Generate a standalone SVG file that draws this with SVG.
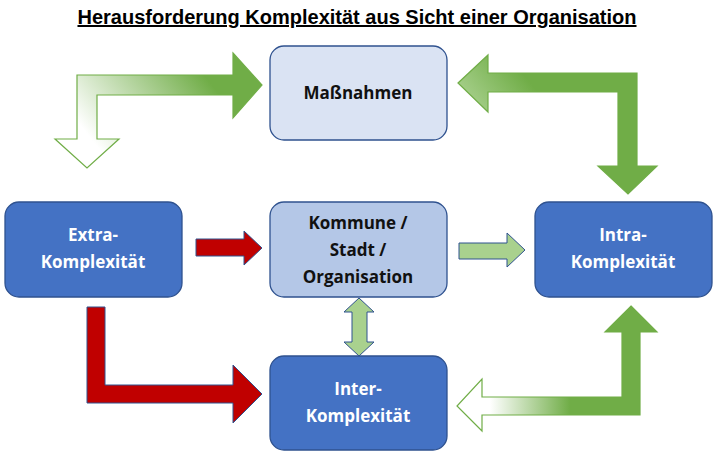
<svg xmlns="http://www.w3.org/2000/svg" width="720" height="453" viewBox="0 0 720 453">
<style>
.box{stroke:#2f528f;stroke-width:1.3}
.t{font-family:"Open Sans",sans-serif;font-weight:bold;font-size:17px;text-anchor:middle}
.w{fill:#fff}.k{fill:#111}
.g{stroke:#70ad47;stroke-width:1.2}
.r{fill:#c00000;stroke:#2f528f;stroke-width:1}
.lg{fill:#a9d18e;stroke:#2f528f;stroke-width:1}
</style>
<defs>
<linearGradient id="gTL" gradientUnits="userSpaceOnUse" x1="100" y1="150" x2="200" y2="70">
<stop offset="0" stop-color="#fff"/><stop offset="1" stop-color="#70ad47"/></linearGradient>
<linearGradient id="gBR" gradientUnits="userSpaceOnUse" x1="490" y1="406" x2="570" y2="406">
<stop offset="0" stop-color="#fff"/><stop offset="1" stop-color="#70ad47"/></linearGradient>
<linearGradient id="gTR" gradientUnits="userSpaceOnUse" x1="470" y1="110" x2="520" y2="70">
<stop offset="0" stop-color="#a9d18e"/><stop offset="1" stop-color="#70ad47"/></linearGradient>
</defs>
<text x="357" y="24" font-family="Liberation Sans,Arial,sans-serif" font-weight="bold" font-size="20" text-anchor="middle" text-decoration="underline">Herausforderung Komplexität aus Sicht einer Organisation</text>
<g id="connectors">
<path class="g" fill="url(#gTL)" d="M233,53 L262,85 L233,118 L233,95 L97,95 L97,139 L119,139 L87,168 L55,139 L77,139 L77,75 L233,75 Z"/>
<path class="g" fill="url(#gTR)" d="M458,83 L488,55 L488,73 L637,73 L637,166 L657,166 L628,194 L598,166 L618,166 L618,92 L488,92 L488,112 Z"/>
<path class="g" fill="url(#gBR)" d="M631,306 L657,332 L640,332 L640,415 L482,415 L482,431 L457,406 L482,379 L482,397 L622,397 L622,332 L605,332 Z"/>
<path class="r" d="M196,239 L244,239 L244,231 L262,248 L244,265 L244,256 L196,256 Z"/>
<path class="r" d="M87,307 L105,307 L105,385 L233,385 L233,365 L262,394 L233,423 L233,403 L87,403 Z"/>
<path class="lg" d="M459,243 L507,243 L507,233 L525,250 L507,267 L507,259 L459,259 Z"/>
<path class="lg" d="M359,298 L374,312 L367,312 L367,342 L374,342 L359,356 L344,342 L352,342 L352,312 L344,312 Z"/>
</g>
<g id="massnahmen"><rect class="box" x="270" y="46" width="177" height="94" rx="14" fill="#dae3f3"/><text class="t k" x="358" y="99">Maßnahmen</text></g>
<g id="extra"><rect class="box" x="5" y="202" width="177" height="95" rx="14" fill="#4472c4"/><text class="t w" x="93" y="241">Extra-</text><text class="t w" x="93" y="268">Komplexität</text></g>
<g id="kommune"><rect class="box" x="270" y="202" width="177" height="95" rx="14" fill="#b4c7e7"/><text class="t k" x="358" y="229">Kommune /</text><text class="t k" x="358" y="256">Stadt /</text><text class="t k" x="358" y="283">Organisation</text></g>
<g id="intra"><rect class="box" x="535" y="202" width="177" height="95" rx="14" fill="#4472c4"/><text class="t w" x="623" y="241">Intra-</text><text class="t w" x="623" y="268">Komplexität</text></g>
<g id="inter"><rect class="box" x="270" y="356" width="177" height="94" rx="14" fill="#4472c4"/><text class="t w" x="358" y="395">Inter-</text><text class="t w" x="358" y="422">Komplexität</text></g>
</svg>
